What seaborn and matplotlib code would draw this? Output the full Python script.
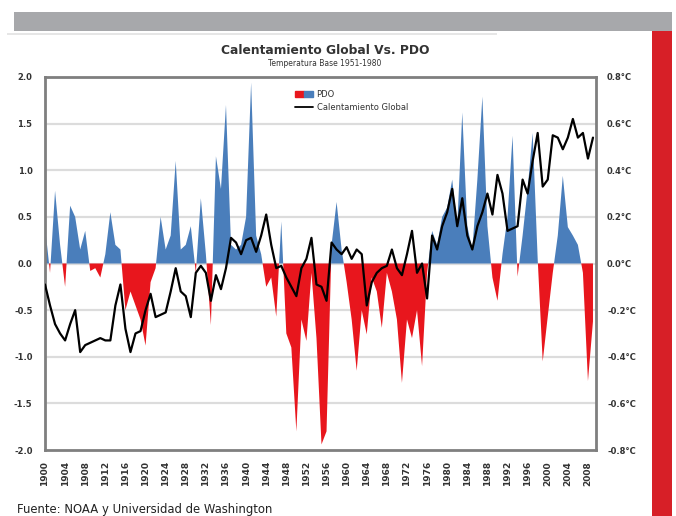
import numpy as np
import pandas as pd
import matplotlib.pyplot as plt
import seaborn as sns
from matplotlib.patches import Patch, Rectangle
from matplotlib.lines import Line2D
from matplotlib.legend_handler import HandlerTuple

sns.set_theme(style='white')
plt.rcParams['font.family'] = ['DejaVu Sans']

# years 1900-2009
years = list(range(1900, 2010))

# PDO index (left axis)
pdo = [0.40, -0.10, 0.78, 0.20, -0.25, 0.62, 0.50, 0.15, 0.35, -0.08,
       -0.05, -0.15, 0.10, 0.55, 0.20, 0.15, -0.50, -0.30, -0.45, -0.60,
       -0.88, -0.20, -0.05, 0.50, 0.15, 0.30, 1.10, 0.15, 0.20, 0.40,
       -0.10, 0.70, 0.10, -0.66, 1.15, 0.80, 1.70, 0.20, 0.15, 0.20,
       0.50, 1.94, 0.30, 0.10, -0.25, -0.15, -0.57, 0.45, -0.75, -0.90,
       -1.80, -0.60, -0.83, -0.10, -0.80, -1.94, -1.80, 0.20, 0.66, 0.15,
       -0.20, -0.60, -1.15, -0.50, -0.76, -0.15, -0.30, -0.69, -0.10, -0.30,
       -0.60, -1.28, -0.60, -0.80, -0.50, -1.10, -0.10, 0.35, 0.20, 0.50,
       0.60, 0.90, 0.40, 1.62, 0.40, 0.15, 0.90, 1.79, 0.40, -0.15,
       -0.40, 0.10, 0.50, 1.37, -0.14, 0.30, 0.80, 1.40, 0.05, -1.05,
       -0.57, -0.10, 0.30, 0.94, 0.39, 0.30, 0.20, -0.10, -1.26, -0.62]

# global temperature anomaly, base 1951-1980 (right axis, deg C)
temp = [-0.09, -0.18, -0.26, -0.30, -0.33, -0.26, -0.20, -0.38, -0.35, -0.34,
        -0.33, -0.32, -0.33, -0.33, -0.18, -0.09, -0.28, -0.38, -0.30, -0.29,
        -0.20, -0.13, -0.23, -0.22, -0.21, -0.12, -0.02, -0.12, -0.14, -0.23,
        -0.04, -0.01, -0.04, -0.16, -0.05, -0.11, -0.02, 0.11, 0.09, 0.04,
        0.10, 0.11, 0.05, 0.12, 0.21, 0.08, -0.02, -0.01, -0.06, -0.10,
        -0.14, -0.02, 0.02, 0.11, -0.09, -0.10, -0.16, 0.09, 0.06, 0.04,
        0.07, 0.02, 0.06, 0.04, -0.18, -0.08, -0.04, -0.02, -0.01, 0.06,
        -0.02, -0.05, 0.04, 0.14, -0.04, 0.00, -0.15, 0.12, 0.06, 0.16,
        0.22, 0.32, 0.16, 0.28, 0.12, 0.06, 0.16, 0.22, 0.30, 0.21,
        0.38, 0.30, 0.14, 0.15, 0.16, 0.36, 0.30, 0.44, 0.56, 0.33,
        0.36, 0.55, 0.54, 0.49, 0.54, 0.62, 0.54, 0.56, 0.45, 0.54]

left_ticks = [2.0, 1.5, 1.0, 0.5, 0.0, -0.5, -1.0, -1.5, -2.0]
right_ticks = [0.8, 0.6, 0.4, 0.2, 0.0, -0.2, -0.4, -0.6, -0.8]
xtick_years = list(range(1900, 2009, 4))

df = pd.DataFrame({'year': years, 'pdo': pdo, 'temp': temp})

blue = '#4a7ebb'
red = '#e8161d'
txt = '#333333'

fig = plt.figure(figsize=(6.76, 5.16), dpi=100)
fig.patch.set_facecolor('white')

# decoration bars
fig.add_artist(Rectangle((14 / 676, 1 - 31 / 516), 658 / 676, 19 / 516,
                         transform=fig.transFigure, color='#a7a8ab', lw=0))
fig.add_artist(Rectangle((652 / 676, 0), 20 / 676, 485 / 516,
                         transform=fig.transFigure, color='#d71f27', lw=0))
fig.add_artist(Rectangle((7 / 676, 1 - 35 / 516), 490 / 676, 2 / 516,
                         transform=fig.transFigure, color='#e6e6e6', lw=0))

ax = fig.add_axes([45 / 676, 1 - 450 / 516, 551 / 676, 373 / 516])
ax.set_facecolor('white')

for v in left_ticks[1:-1]:
    ax.axhline(v, color='#dcdcdc', lw=1.6, zorder=0)

x = df['year'].values.astype(float)
y = df['pdo'].values
ax.fill_between(x, 0, y, where=y >= 0, interpolate=True, color=blue, lw=0, zorder=2)
ax.fill_between(x, 0, y, where=y <= 0, interpolate=True, color=red, lw=0, zorder=2)

ax.set_xlim(1900, 2009.6)
ax.set_ylim(-2.0, 2.0)
ax.set_yticks(left_ticks)
ax.set_yticklabels([f'{v:.1f}' for v in left_ticks], fontsize=6,
                   fontweight='bold', color=txt)
ax.set_xticks(xtick_years)
ax.set_xticklabels([str(v) for v in xtick_years], rotation=90, fontsize=6.5,
                   fontweight='bold', color=txt)
ax.tick_params(axis='y', length=0, pad=9)
ax.tick_params(axis='x', length=0, pad=8)
for s in ax.spines.values():
    s.set_color('#7f7f7f')
    s.set_linewidth(2)
ax.set_xlabel('')
ax.set_ylabel('')

ax2 = ax.twinx()
sns.lineplot(data=df, x='year', y='temp', ax=ax2, color='black', lw=1.6)
ax2.set_ylim(-0.8, 0.8)
ax2.set_xlim(1900, 2009.6)
ax2.set_yticks(right_ticks)
ax2.set_yticklabels([f'{v:.1f}°C' for v in right_ticks], fontsize=6,
                    fontweight='bold', color=txt)
ax2.tick_params(axis='y', length=0, pad=8)
ax2.set_ylabel('')
for s in ax2.spines.values():
    s.set_visible(False)

handles = [(Patch(color=red), Patch(color=blue)),
           Line2D([], [], color='black', lw=1.3)]
ax2.legend(handles, ['PDO', 'Calentamiento Global'],
           handler_map={tuple: HandlerTuple(ndivide=None, pad=0)},
           loc='upper left', bbox_to_anchor=(0.44, 0.985), frameon=False,
           fontsize=6, handlelength=2.2, handletextpad=0.4, labelspacing=0.5,
           labelcolor=txt)

fig.text(325 / 676, 1 - 50 / 516, 'Calentamiento Global Vs. PDO', ha='center',
         va='center', fontsize=8.8, fontweight='bold', color=txt)
fig.text(325 / 676, 1 - 63 / 516, 'Temperatura Base 1951-1980', ha='center',
         va='center', fontsize=5.5, color=txt)
fig.text(17 / 676, 1 - 509 / 516, 'Fuente: NOAA y Universidad de Washington',
         ha='left', va='center', fontsize=8.4, color='#222222')

fig.savefig('out.png', dpi=100)
